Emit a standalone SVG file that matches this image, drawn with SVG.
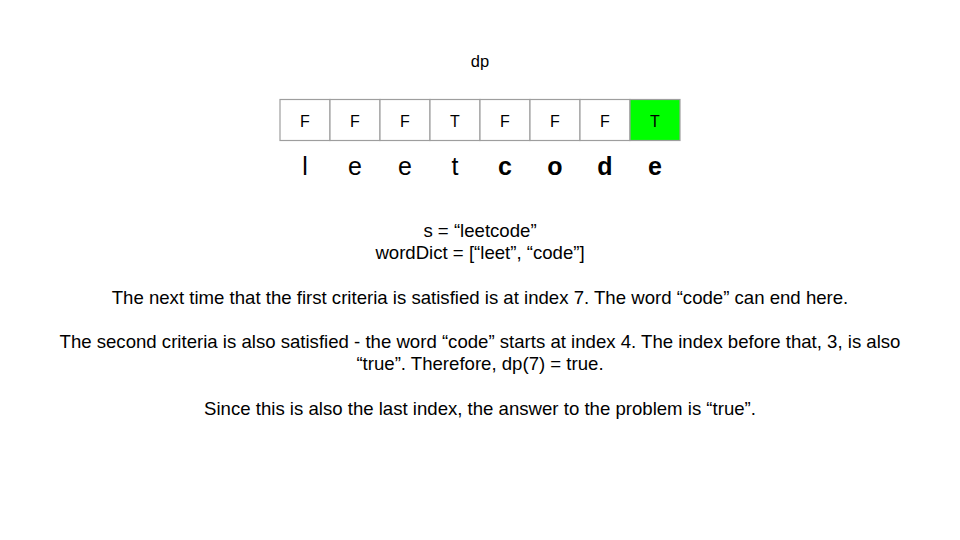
<svg xmlns="http://www.w3.org/2000/svg" width="960" height="540" viewBox="0 0 960 540">
<style>
text{font-family:"Liberation Sans",Arial,sans-serif;fill:#000;text-anchor:middle}
.cell rect{fill:#fff;stroke:#9e9e9e;stroke-width:1.2}
.cell text{font-size:16px}
.ch{font-size:25px}
.b{font-weight:bold}
.t{font-size:18.6px}
</style>
<rect width="960" height="540" fill="#fff"/>
<text id="dp" x="480" y="67" font-size="16.5">dp</text>
<g id="cell0" class="cell"><rect x="280" y="99.5" width="50" height="41"/><text x="305" y="126.5">F</text></g>
<g id="cell1" class="cell"><rect x="330" y="99.5" width="50" height="41"/><text x="355" y="126.5">F</text></g>
<g id="cell2" class="cell"><rect x="380" y="99.5" width="50" height="41"/><text x="405" y="126.5">F</text></g>
<g id="cell3" class="cell"><rect x="430" y="99.5" width="50" height="41"/><text x="455" y="126.5">T</text></g>
<g id="cell4" class="cell"><rect x="480" y="99.5" width="50" height="41"/><text x="505" y="126.5">F</text></g>
<g id="cell5" class="cell"><rect x="530" y="99.5" width="50" height="41"/><text x="555" y="126.5">F</text></g>
<g id="cell6" class="cell"><rect x="580" y="99.5" width="50" height="41"/><text x="605" y="126.5">F</text></g>
<g id="cell7" class="cell"><rect x="630" y="99.5" width="50" height="41" style="fill:#00ff00"/><text x="655" y="126.5">T</text></g>
<g id="letters">
<text class="ch" x="305" y="175">l</text>
<text class="ch" x="355" y="175">e</text>
<text class="ch" x="405" y="175">e</text>
<text class="ch" x="455" y="175">t</text>
<text class="ch b" x="505" y="175">c</text>
<text class="ch b" x="555" y="175">o</text>
<text class="ch b" x="605" y="175">d</text>
<text class="ch b" x="655" y="175">e</text>
</g>
<g id="desc" class="t">
<text x="480" y="237">s = “leetcode”</text>
<text x="480" y="259">wordDict = [“leet”, “code”]</text>
<text x="480" y="304">The next time that the first criteria is satisfied is at index 7. The word “code” can end here.</text>
<text x="480" y="348">The second criteria is also satisfied - the word “code” starts at index 4. The index before that, 3, is also</text>
<text x="480" y="370">“true”. Therefore, dp(7) = true.</text>
<text x="480" y="415">Since this is also the last index, the answer to the problem is “true”.</text>
</g>
</svg>
